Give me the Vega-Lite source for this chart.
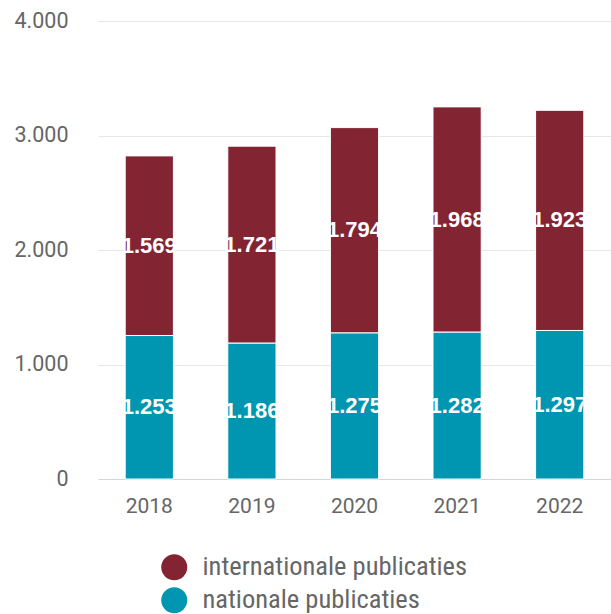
{
  "$schema": "https://vega.github.io/schema/vega-lite/v6.json",
  "width": 513,
  "height": 458,
  "padding": {"left": 5, "top": 10, "right": 0, "bottom": 0},
  "autosize": {"type": "pad"},
  "config": {
    "locale": {"number": {"decimal": ",", "thousands": ".", "grouping": [3], "currency": ["€", ""]}},
    "view": {"stroke": null},
    "font": "Roboto"
  },
  "data": {
    "values": [
      {"jaar": "2018", "serie": "internationale publicaties", "aantal": 1569},
      {"jaar": "2018", "serie": "nationale publicaties", "aantal": 1253},
      {"jaar": "2019", "serie": "internationale publicaties", "aantal": 1721},
      {"jaar": "2019", "serie": "nationale publicaties", "aantal": 1186},
      {"jaar": "2020", "serie": "internationale publicaties", "aantal": 1794},
      {"jaar": "2020", "serie": "nationale publicaties", "aantal": 1275},
      {"jaar": "2021", "serie": "internationale publicaties", "aantal": 1968},
      {"jaar": "2021", "serie": "nationale publicaties", "aantal": 1282},
      {"jaar": "2022", "serie": "internationale publicaties", "aantal": 1923},
      {"jaar": "2022", "serie": "nationale publicaties", "aantal": 1297}
    ]
  },
  "layer": [
    {
      "mark": {"type": "bar", "stroke": "white", "strokeWidth": 1},
      "encoding": {
        "x": {
          "field": "jaar", "type": "ordinal",
          "scale": {"paddingInner": 0.53, "paddingOuter": 0.265},
          "axis": {"title": null, "labelAngle": 0, "labelFontSize": 21, "labelColor": "#666666", "labelPadding": 16, "ticks": false, "domainColor": "#ccd6eb", "domainWidth": 1, "grid": false}
        },
        "y": {
          "field": "aantal", "type": "quantitative", "stack": "zero",
          "scale": {"domain": [0, 4000]},
          "axis": {"title": null, "values": [0, 1000, 2000, 3000, 4000], "format": ",d", "grid": true, "gridColor": "#e6e6e6", "domain": false, "ticks": false, "labelFontSize": 21.5, "labelColor": "#666666", "labelPadding": 30, "minExtent": 93}
        },
        "color": {
          "field": "serie", "type": "nominal",
          "scale": {"domain": ["internationale publicaties", "nationale publicaties"], "range": ["#832433", "#0096b1"]},
          "legend": {
            "title": null, "orient": "none", "legendX": 63, "legendY": 533, "direction": "vertical",
            "symbolType": "circle", "symbolSize": 676, "symbolStrokeWidth": 0, "symbolOpacity": 1,
            "labelFontSize": 26.5, "labelColor": "#666666", "labelFont": "Roboto Condensed, DejaVu Sans Condensed, Roboto", "labelOffset": 15, "rowPadding": 6, "labelLimit": 400
          }
        },
        "order": {"field": "serie", "sort": "descending"}
      }
    },
    {
      "transform": [
        {"stack": "aantal", "groupby": ["jaar"], "sort": [{"field": "serie", "order": "descending"}], "as": ["y0", "y1"]},
        {"calculate": "(datum.y0 + datum.y1) / 2", "as": "ymid"}
      ],
      "mark": {"type": "text", "color": "white", "fontWeight": "bold", "fontSize": 22, "font": "Liberation Sans", "baseline": "middle"},
      "encoding": {
        "x": {"field": "jaar", "type": "ordinal"},
        "y": {"field": "ymid", "type": "quantitative"},
        "text": {"field": "aantal", "type": "quantitative", "format": ",d"}
      }
    }
  ]
}
